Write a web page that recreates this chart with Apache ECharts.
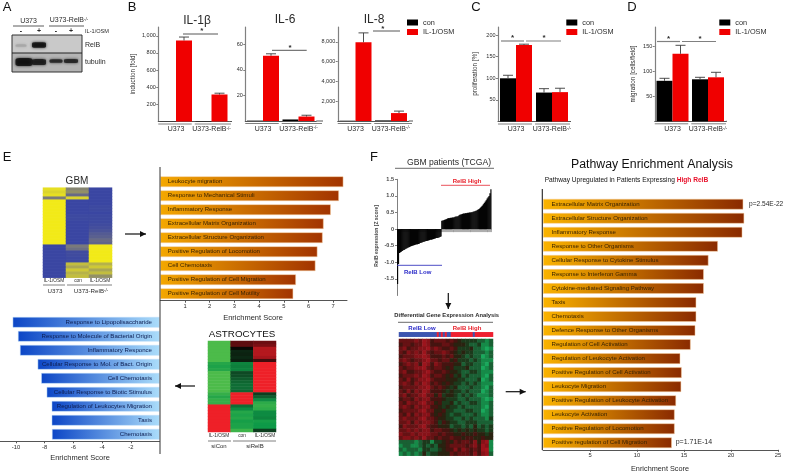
<!DOCTYPE html>
<html><head><meta charset="utf-8">
<style>html,body{margin:0;padding:0;background:#fff}#c{width:787px;height:472px;filter:blur(.45px)}</style>
<script src="https://cdn.jsdelivr.net/npm/echarts@6/dist/echarts.min.js"></script>
</head><body><div id="c"></div>
<script>
// ---------- data ----------
const groups = ['U373', 'U373-RelB{s|-/-}'];
const il1Con = [3, 5],      il1Osm = [945, 315],  il1Top = [985, 330];
const il6Con = [0.3, 1.2],  il6Osm = [51, 3.5],   il6Top = [52.5, 4.5];
const il8Con = [30, 60],    il8Osm = [7950, 800], il8Top = [8900, 1000];
const proCon = [100, 67],   proOsm = [177, 68];
const proConTop = [107, 76], proOsmTop = [179, 77];
const migCon = [81, 84],    migOsm = [135, 88];
const migConTop = [86, 88], migOsmTop = [152, 98];
const il1Ticks = [200, 400, 600, 800, 1000];
const il6Ticks = [20, 40, 60];
const il8Ticks = [2000, 4000, 6000, 8000];
const proTicks = [50, 100, 150, 200];
const migTicks = [50, 100, 150];

const gbmPathways = ['Leukocyte migration','Response to Mechanical Stimuli','Inflammatory Response','Extracellular Matrix Organization','Extracellular Structure Organization','Positive Regulation of Locomotion','Cell Chemotaxis','Positive Regulation of Cell Migration','Positive Regulation of Cell Motility'];
const gbmScores = [7.41, 7.23, 6.9, 6.61, 6.57, 6.36, 6.28, 5.49, 5.38];
const astroPathways = ['Response to Lipopolisaccharide','Response to Molecule of Bacterial Origin','Inflammatory Responce','Cellular Response to Mol. of Bact. Origin','Cell Chemotaxis','Cellular Response to Biotic Stimulus','Regulation of Leukocytes Migration','Taxis','Chemotaxis'];
const astroScores = [-10.23, -9.86, -9.72, -8.49, -8.24, -7.86, -7.51, -7.51, -7.49];
const tcgaPathways = ['Extracellular Matrix Organization','Extracellular Structure Organization','Inflammatory Response','Response to Other Organisms','Cellular Response to Cytokine Stimulus','Response to Interferon Gamma','Cytokine-mediated Signaling Pathway','Taxis','Chemotaxis','Defence Response to Other Organisms','Regulation of Cell Activation','Regulation of Leukocyte Activation','Positive Regulation of Cell Activation','Leukocyte Migration','Positive Regulation of Leukocyte Activation','Leukocyte Activation','Positive Regulation of Locomotion','Positive regulation of Cell Migration'];
const tcgaScores = [21.3, 21.4, 21.2, 18.6, 17.6, 17.1, 17.1, 16.3, 16.3, 16.2, 15.7, 14.6, 14.75, 14.7, 14.15, 14.0, 14.0, 13.7];

const gbmCol1 = [.9,.8,.9,0,1,1,1,1,1,1,1,1,1,1,1,1,1,1,1,-1,-1,-1,-1,-1,-1,-1,-1,-1,-1,-1];
const gbmCol2 = [.1,.2,-.3,.8,-1,-1,-1,-1,-1,-.95,-.95,-1,-1,-1,-1,-1,-1,-1,-1,0,-.2,-.9,-.9,-.95,-.95,.6,.4,.7,.5,.6];
const gbmCol3 = [-1,-1,-1,-1,-1,-1,-.95,-.95,-1,-.95,-.95,-.95,-.9,-.85,-.75,-.6,-.5,-.3,-.4,1,1,1,1,1,1,.5,.7,.4,.6,.2];

const astroCol1 = [-1,-1,-1,-1,-1,-1,-1,-.75,-.7,-.75,-1,-1,-1,-1,-1,-1,-1,-.85,-.75,-.85,-.85,1,1,1,1,1,1,1,1,1];
const astroCol2 = [.5,.5,.2,.06,.08,.05,.1,-.45,-.42,-.45,-.1,-.12,-.18,-.25,-.3,-.3,-.25,1,1,1,1,-.3,-.5,-.75,-.7,-.75,-.65,-.7,-.7,-.9];
const astroCol3 = [.55,.6,.8,.8,.8,.75,.4,1,1,1,1,1,1,1,1,1,1,-.05,-.2,-.5,-.8,-.85,-.8,-.5,-.5,-.45,-.65,-.6,-.6,-.05];

const lowRelB = [-1.65,-1.05,-0.72,-0.70,-0.68,-0.66,-0.64,-0.63,-0.61,-0.59,-0.58,-0.56,-0.55,-0.54,-0.52,-0.51,-0.50,-0.49,-0.48,-0.47,-0.46,-0.46,-0.45,-0.44,-0.42,-0.41,-0.40,-0.39,-0.38,-0.37,-0.36,-0.36,-0.35,-0.34,-0.33,-0.32,-0.32,-0.31,-0.30,-0.29,-0.28,-0.27,-0.27,-0.26,-0.25,-0.24,-0.22];
const highRelB = [0.25,0.26,0.27,0.28,0.29,0.30,0.32,0.33,0.33,0.34,0.34,0.35,0.35,0.36,0.37,0.38,0.38,0.39,0.41,0.43,0.44,0.45,0.46,0.47,0.47,0.48,0.48,0.49,0.49,0.50,0.50,0.51,0.51,0.52,0.53,0.54,0.55,0.56,0.58,0.60,0.62,0.65,0.68,0.71,0.75,0.79,0.83,0.87,0.92,0.96,1.00,1.08,1.20];
const relBTicks = [-1.5,-1,-0.5,0,0.5,1,1.5];

const relBStrip = [0,0,0,0,0,0,0,0,0,0,0,0,0,0,0,0,0,0,0,1,0,1,0,1,0,0,1,1,1,1,1,1,1,1,1,1,1,0,1,1,1,1,1,1,1,1,1];
const degRows = [
"666676875666565433332212","566566875556654443223112","675667786765565333422101",
"657676865667654343322212","566677875556564432322012","676566786656645333232111",
"567675875765554423322102","656677865665453334222012","675566786556544322332111",
"566676875665453423222102","657567786555444332223012","676576875654543323232111",
"566667786565434222322102","657576875554343323222012","675667866463443232321112",
"566576775554333223222101","657667866453342322332112","676576775543433232222102",
"566667866445332223322012","657576775454323322232112","676667866544332232322213",
"667576776535433223332222","576667865544423323242323","667676775665543434343323",
"766767776656554454454434","677676866565565545544544","222212331334546566574781",
"122112323244566665675871","212221332234557576565891","121212423344465666575782"];

// western blot bands: lane x, row y (in blot units), band width, band height, darkness
const blotBands = [[9,10.5,11,2.5,.12],[27,10,14,5.5,1],[12,27,17,8,1],[27,27,14,6,.95],[44,26,13,3.5,.9],[59,26,14,4,.9]];

// ---------- helpers ----------
const FONT = '"Liberation Sans", Arial, sans-serif';
const INK = '#2a2a2a', AXIS = '#808080', RED = '#f00000', BLUE = '#2a2ac8';
const grid = [], xAxis = [], yAxis = [], series = [], visualMap = [], graphic = [];
function addGrid(r, x, y) {
  grid.push({left:r[0], top:r[1], width:r[2], height:r[3], containLabel:false});
  xAxis.push(Object.assign({gridIndex:grid.length-1}, x));
  yAxis.push(Object.assign({gridIndex:grid.length-1}, y));
  return grid.length-1;
}
const sup = {s:{fontSize:4.5, fontFamily:FONT, fill:INK, verticalAlign:'top', lineHeight:5}};
function T(x, y, text, o) {
  o = o || {};
  graphic.push({type:'text', x, y, z:50, rotation:o.rot||0, style:{
    text, fill:o.color||INK, fontFamily:FONT, fontSize:o.size||6.5, fontWeight:o.bold?'bold':'normal',
    align:o.align||'center', verticalAlign:'middle', rich:o.rich}});
}
function L(x1, y1, x2, y2, color, w) {
  graphic.push({type:'line', z:40, shape:{x1,y1,x2,y2}, style:{stroke:color||'#444', lineWidth:w||1}});
}
function arrow(x1, y1, x2, y2) {
  L(x1, y1, x2, y2, '#111', 1.2);
  const dx = Math.sign(x2-x1), dy = Math.sign(y2-y1), h = 6, s = 3;
  graphic.push({type:'polygon', z:40, shape:{points:[[x2,y2],[x2-dx*h-dy*s,y2-dy*h-dx*s],[x2-dx*h+dy*s,y2-dy*h+dx*s]]}, style:{fill:'#111'}});
}
function errorBars(g, tops, vals, off) {
  series.push({type:'custom', xAxisIndex:g, yAxisIndex:g, silent:true, z:3, clip:false,
    data: vals.map((v,i)=>[i, v, tops[i]]),
    renderItem(p, api){
      const a = api.coord([api.value(0), api.value(1)]), b = api.coord([api.value(0), api.value(2)]), x = a[0]+off;
      const st = {stroke:'#3a3a3a', lineWidth:.9};
      return {type:'group', children:[
        {type:'line', shape:{x1:x,y1:a[1],x2:x,y2:b[1]}, style:st},
        {type:'line', shape:{x1:x-5,y1:b[1],x2:x+5,y2:b[1]}, style:st}]};
    }});
}
function barPanel(p) {
  const w = (p.c2-p.c1), base = p.base, top = p.top;
  const g = addGrid([p.c1-w/2, top, w*2, base-top],
    {type:'category', data:groups, axisTick:{show:false},
     axisLine:{lineStyle:{color:'#555', width:1}},
     axisLabel:{interval:0, fontSize:7, fontFamily:FONT, color:INK, margin:4.5, rich:sup, formatter:v=>v}},
    {type:'value', min:0, max:(base-top)/p.ppu,
     axisLine:{show:true, lineStyle:{color:AXIS, width:1.2}},
     axisTick:{show:true, length:2, lineStyle:{color:AXIS}, customValues:p.ticks},
     axisLabel:{fontSize:5.5, fontFamily:FONT, color:INK, margin:2.5, customValues:p.ticks},
     splitLine:{show:false}});
  series.push({type:'bar', name:'con', xAxisIndex:g, yAxisIndex:g, data:p.con, barWidth:16, barGap:0, itemStyle:{color:'#000'}});
  series.push({type:'bar', name:'IL-1/OSM', xAxisIndex:g, yAxisIndex:g, data:p.osm, barWidth:16, barGap:0, itemStyle:{color:RED}});
  if (p.conTop) errorBars(g, p.conTop, p.con, -8);
  errorBars(g, p.osmTop, p.osm, 8);
  L(p.c1+w*1.5, base, p.end, base, '#555', 1);
  L(p.c1-w/2, base+2.5, p.c1+w/2-2, base+2.5, AXIS, 1);
  L(p.c1+w/2+1, base+2.5, p.end-1, base+2.5, AXIS, 1);
}
function star(x, y) { T(x, y+1.5, '*', {size:8, bold:true}); }
function gradient(a, b) { return new echarts.graphic.LinearGradient(0,0,1,0,[{offset:0,color:a},{offset:1,color:b}]); }
function hbar(r, names, vals, xOpt, o) {
  const g = addGrid(r, Object.assign({type:'value', splitLine:{show:false},
      axisLine:{show:true, onZero:false, lineStyle:{color:'#555', width:1}},
      axisTick:{show:true, length:2, lineStyle:{color:'#555'}, customValues:xOpt.ticks},
      axisLabel:{fontSize:5.8, fontFamily:FONT, color:INK, margin:3, customValues:xOpt.ticks}}, {min:xOpt.min, max:xOpt.max}),
    {type:'category', inverse:true, data:names, axisLine:{show:false}, axisTick:{show:false}, axisLabel:{show:false}});
  series.push({type:'bar', xAxisIndex:g, yAxisIndex:g, data:vals, barWidth:10.6,
    itemStyle:{color:o.color, borderColor:o.border, borderWidth:.5},
    label:{show:true, position:o.pos, distance:o.dist, formatter:'{b}', fontSize:o.fs||6.1, fontFamily:FONT, color:o.text}});
}
function heat(r, cols, nRows, colors, min, max) {
  const xs = cols.map((_,i)=>i), ys = Array.from({length:nRows},(_,i)=>i);
  const g = addGrid(r, {type:'category', data:xs, show:false}, {type:'category', inverse:true, data:ys, show:false});
  const data = [];
  cols.forEach((col,i)=>col.forEach((v,j)=>data.push([i,j,v])));
  visualMap.push({show:false, type:'continuous', seriesIndex:series.length, dimension:2, min, max, inRange:{color:colors}});
  series.push({type:'heatmap', xAxisIndex:g, yAxisIndex:g, data, silent:true, itemStyle:{borderWidth:0}});
}

// ---------- panel letters ----------
[['A',7,7],['B',132,7],['C',476,7],['D',632,7],['E',7,157],['F',374,157]].forEach(a=>T(a[1],a[2],a[0],{size:13,color:'#111'}));

// ---------- A: blot ----------
graphic.push({type:'rect', z:0, shape:{x:12,y:35,width:70,height:18}, style:{fill:'#c9c9c9'}});
graphic.push({type:'rect', z:0, shape:{x:12,y:53,width:70,height:19}, style:{fill:'#b4b4b4'}});
const blotG = addGrid([12,35,70,37], {type:'value', min:0, max:70, show:false}, {type:'value', min:0, max:37, inverse:true, show:false});
series.push({type:'scatter', xAxisIndex:blotG, yAxisIndex:blotG, silent:true, symbol:'roundRect',
  data:blotBands.map(b=>{const v=Math.round(185-175*b[4]);const c=`rgb(${v},${v},${v})`;return {value:b, itemStyle:{color:c,shadowBlur:3,shadowColor:c}};}),
  symbolSize:d=>[d[2],d[3]]});
graphic.push({type:'rect', z:40, shape:{x:12,y:35,width:70,height:37}, style:{fill:'none',stroke:'#333',lineWidth:1}});
L(12,53,82,53,'#222',1);
T(28.5,21,'U373',{size:7}); T(69,20.5,'U373-RelB{s|-/-}',{size:7,rich:sup});
L(13,26,44,26,'#333',.8); L(49,26,84,26,'#333',.8);
[[21,'-'],[39,'+'],[56,'-'],[71,'+']].forEach(a=>T(a[0],31,a[1],{size:7,bold:true}));
T(85,31.5,'IL-1/OSM',{size:5.6,align:'left'}); T(85,45,'RelB',{size:7,align:'left'}); T(85,62,'tubulin',{size:7,align:'left'});

// ---------- B, C, D ----------
barPanel({c1:176,c2:211.5,end:232,base:121.5,top:27,ppu:.08575,ticks:il1Ticks,con:il1Con,osm:il1Osm,osmTop:il1Top});
barPanel({c1:263,c2:298.5,end:323,base:121,top:27,ppu:1.28,ticks:il6Ticks,con:il6Con,osm:il6Osm,osmTop:il6Top});
barPanel({c1:355.5,c2:391,end:413,base:121,top:27,ppu:.0099,ticks:il8Ticks,con:il8Con,osm:il8Osm,osmTop:il8Top});
barPanel({c1:516,c2:552,end:571,base:121.5,top:27,ppu:.432,ticks:proTicks,con:proCon,osm:proOsm,conTop:proConTop,osmTop:proOsmTop});
barPanel({c1:672.5,c2:708,end:727,base:121.3,top:27,ppu:.5,ticks:migTicks,con:migCon,osm:migOsm,conTop:migConTop,osmTop:migOsmTop});
T(197,21,'IL-1β',{size:12}); T(285,20,'IL-6',{size:12}); T(374,20,'IL-8',{size:12});
T(133,74,'induction [fold]',{size:6.3,rot:Math.PI/2}); T(475,74,'proliferation [%]',{size:6.3,rot:Math.PI/2}); T(633,74,'migration [cells/field]',{size:6.3,rot:Math.PI/2});
L(183,34,218,34,'#444',.9); star(201.7,29);
L(272,50.3,306.7,50.3,'#444',.9); star(290,46);
L(373,31,400,31,'#444',.9); star(382.7,27);
L(501,41,524,41,AXIS,1.2); L(526,41,561,41,AXIS,1.2); star(512.5,36); star(544,36);
L(657,41.5,680,41.5,AXIS,1.2); L(682,41.5,716,41.5,AXIS,1.2); star(668.6,37); star(700,37);

// ---------- E ----------
heat([43,187.7,69,90],[gbmCol1,gbmCol2,gbmCol3],30,['#3a46a2','#7a7a7a','#f2ea18'],-1,1);
T(77,181,'GBM',{size:10});
T(54,281,'IL-1/OSM',{size:4.8}); T(78,281,'con',{size:4.8}); T(100,281,'IL-1/OSM',{size:4.8});
L(43,285,65,285,AXIS,1); L(67,285,112,285,AXIS,1);
T(55,291,'U373',{size:6.2}); T(91,291,'U373-RelB{s|-/-}',{size:6.2,rich:sup});
arrow(125,234,146,234);
hbar([160.3,174.7,186.7,126], gbmPathways, gbmScores, {min:0,max:186.7/24.7,ticks:[1,2,3,4,5,6,7]},
  {color:gradient('#f4a800','#a23400'), border:'#f6cfa0', pos:'insideLeft', dist:7.5, text:'#3a2400'});
T(253,318,'Enrichment Score',{size:7.5});
L(160,167,160,454,'#333',1);
hbar([0,315.3,159.5,126], astroPathways, astroScores, {min:-159.5/14.35,max:0,ticks:[-10,-8,-6,-4,-2]},
  {color:gradient('#0c46c6','#aadcfa'), border:'#bcdcf8', pos:'insideRight', dist:7.5, text:'#0c1c50'});
T(80,458,'Enrichment Score',{size:7.5});
heat([208,341,68,91],[astroCol1,astroCol2,astroCol3],30,['#4cbb4a','#0e9a48','#0f5e2e','#0a0805','#7a0f14','#ee2028'],-1,1);
T(242,334,'ASTROCYTES',{size:9.8,color:'#111'});
T(219,436,'IL-1/OSM',{size:4.8}); T(242,436,'con',{size:4.8}); T(265,436,'IL-1/OSM',{size:4.8});
L(208,441,231,441,AXIS,1); L(233,441,276,441,AXIS,1);
T(219,446.5,'siCon',{size:6}); T(255,446.5,'siRelB',{size:6});
arrow(195,386,175,386);

// ---------- F ----------
T(449,163,'GBM patients (TCGA)',{size:8.6}); L(395,168.3,494,168.3,'#444',.8);
const relB = lowRelB.concat(highRelB);
const wf = addGrid([397,179.3,94.5,116.2],
  {type:'category', data:relB.map((_,i)=>i+1), axisLine:{lineStyle:{color:'#888'}},
   axisTick:{show:true, interval:0, length:3, lineStyle:{color:'#999',width:.8}}, axisLabel:{show:false}},
  {type:'value', min:-2, max:1.5, interval:.5, splitLine:{show:false},
   axisLine:{show:true, onZero:false, lineStyle:{color:AXIS}},
   axisTick:{show:true, length:2, lineStyle:{color:AXIS}, customValues:relBTicks},
   axisLabel:{fontSize:5.5, fontFamily:FONT, fontWeight:'bold', color:'#444', margin:3, customValues:relBTicks, formatter:v=>v===0?'0':v.toFixed(1)}});
series.push({type:'bar', xAxisIndex:wf, yAxisIndex:wf, data:relB, barWidth:1.4, itemStyle:{color:'#050505'}});
T(377,236,'RelB expression [Z score]',{size:5,rot:Math.PI/2,bold:true,color:'#444'});
T(467,181,'RelB High',{size:6,bold:true,color:'#e8202a'}); L(441,185.3,490,185.3,'#e8404a',.9);
T(417.7,272,'RelB Low',{size:6,bold:true,color:BLUE}); L(397,265.3,442,265.3,'#3a3ac0',.9);
arrow(448.3,293,448.3,309);
T(446.7,315.7,'Differential Gene Expression Analysis',{size:5.8,bold:true});
L(398,322.3,493,322.3,'#444',.8);
T(422,328.7,'RelB Low',{size:6,bold:true,color:BLUE}); T(467,328.7,'RelB High',{size:6,bold:true,color:'#e8202a'});
heat([399,332.3,94,4.4], relBStrip.map(v=>[v]),1,['#3c55b0','#ee2030'],0,1);
heat([399,339,94,116.7], Array.from({length:24},(_,c)=>degRows.map(r=>+r[c])),30,
  ['#1aa85c','#168a48','#1a6034','#1c3a1c','#2a2210','#451410','#661214','#861218','#9c141c','#a8141c'],0,9);
arrow(505.7,391.7,525.7,391.7);
T(652,164.3,'Pathway Enrichment Analysis',{size:12.3,color:'#111'});
T(544.7,180,'Pathway Upregulated in Patients Expressing {h|High RelB}',{size:6.6,align:'left',color:'#111',
  rich:{h:{fontSize:6.6,fontWeight:'bold',fill:'#e8102a',fontFamily:FONT}}});
hbar([543,197.2,235,252.6], tcgaPathways, tcgaScores, {min:0,max:25,ticks:[5,10,15,20,25]},
  {color:gradient('#fbb400','#8a2a00'), border:'#f6cfa0', pos:'insideLeft', dist:8.5, text:'#3a2400'});
L(542.3,189,542.3,450,'#222',1.1);
T(749,204,'p=2.54E-22',{size:6.6,align:'left'}); T(675.7,442.3,'p=1.71E-14',{size:7,align:'left'});
T(660,468.5,'Enrichment Score',{size:7.3});

// ---------- chart ----------
const legendBase = {orient:'vertical', top:19, padding:0, data:['con','IL-1/OSM'], itemWidth:11, itemHeight:6, itemGap:2.5, icon:'rect', selectedMode:false, textStyle:{fontSize:7.3, fontFamily:FONT, color:INK}};
const chart = echarts.init(document.getElementById('c'), null, {renderer:'canvas'});
chart.setOption({animation:false, backgroundColor:'#fff', textStyle:{fontFamily:FONT},
  legend:[407,566.3,719.3].map(left=>Object.assign({left},legendBase)),
  grid, xAxis, yAxis, visualMap, series, graphic});
</script></body></html>
